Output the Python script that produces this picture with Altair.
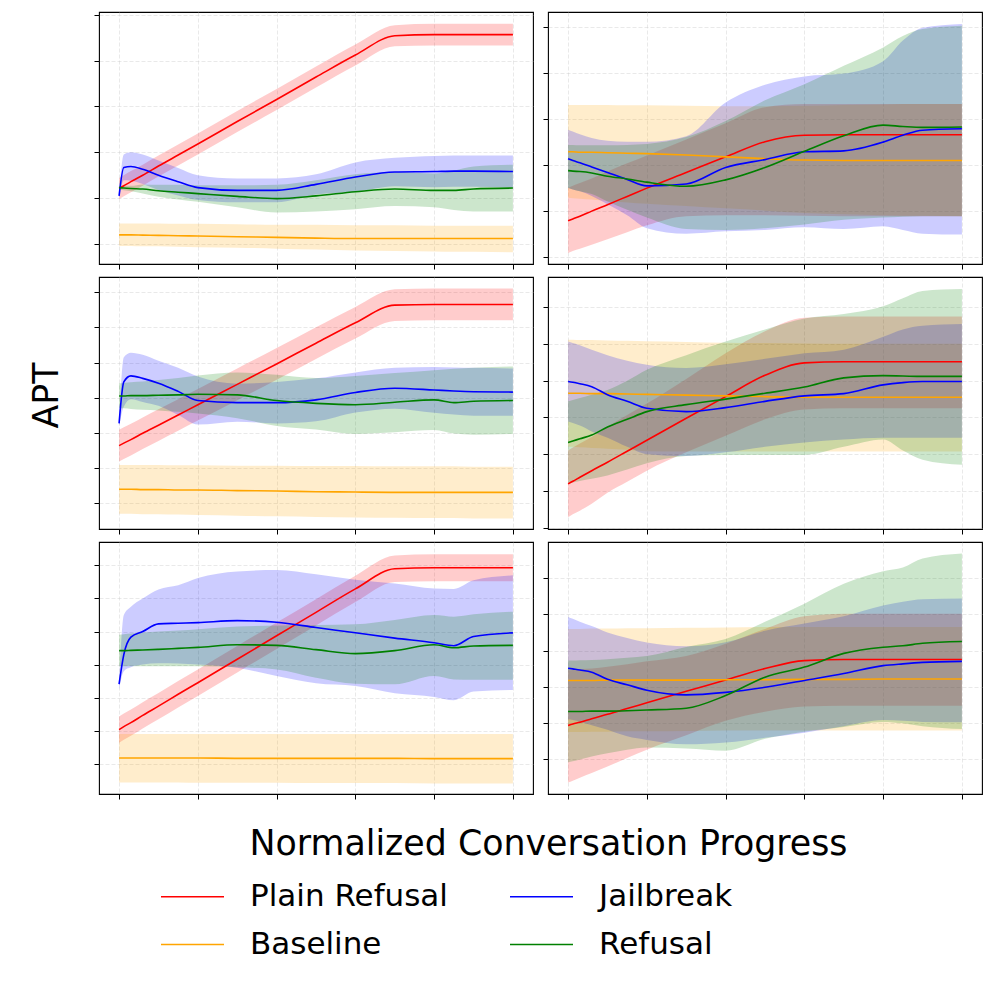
import altair as alt
import pandas as pd

# ---------------- data ----------------
X = [0, 0.012, 0.03, 0.06, 0.1, 0.15, 0.2, 0.3, 0.4, 0.5, 0.6, 0.7, 0.8, 0.85, 0.9, 1.0]
SERIES = ["Plain Refusal", "Baseline", "Jailbreak", "Refusal"]
SERIES_COLORS = ["#ff0000", "#ffa500", "#0000ff", "#008000"]
X_TICKS = [0, 0.2, 0.4, 0.6, 0.8, 1.0]

# top-left
tl_red = [1.21, 1.27, 1.36, 1.50, 1.70, 1.94, 2.18, 2.67, 3.15, 3.64, 4.12, 4.54, 4.565, 4.565, 4.565, 4.565]
tl_red_lo = [0.98, 1.04, 1.13, 1.27, 1.47, 1.71, 1.95, 2.44, 2.92, 3.41, 3.89, 4.31, 4.33, 4.33, 4.33, 4.33]
tl_red_hi = [1.44, 1.50, 1.59, 1.73, 1.93, 2.17, 2.41, 2.90, 3.38, 3.87, 4.35, 4.77, 4.80, 4.80, 4.80, 4.80]
tl_base = [0.20, 0.20, 0.20, 0.195, 0.19, 0.18, 0.175, 0.16, 0.145, 0.13, 0.12, 0.12, 0.12, 0.12, 0.12, 0.12]
tl_base_lo = [-0.04, -0.04, -0.04, -0.05, -0.05, -0.06, -0.07, -0.08, -0.10, -0.12, -0.14, -0.15, -0.16, -0.17, -0.17, -0.18]
tl_base_hi = [0.45, 0.45, 0.45, 0.45, 0.45, 0.44, 0.44, 0.43, 0.42, 0.42, 0.41, 0.41, 0.40, 0.40, 0.40, 0.40]
tl_jail = [1.05, 1.67, 1.69, 1.63, 1.50, 1.36, 1.23, 1.17, 1.17, 1.30, 1.46, 1.57, 1.58, 1.59, 1.59, 1.58]
tl_jail_lo = [1.00, 1.39, 1.38, 1.31, 1.18, 1.06, 0.96, 0.91, 0.91, 1.08, 1.14, 1.26, 1.24, 1.25, 1.25, 1.23]
tl_jail_hi = [1.10, 1.95, 2.00, 1.95, 1.82, 1.66, 1.50, 1.43, 1.43, 1.52, 1.78, 1.88, 1.92, 1.93, 1.93, 1.93]
tl_ref = [1.23, 1.22, 1.21, 1.20, 1.16, 1.13, 1.10, 1.04, 0.99, 1.05, 1.14, 1.20, 1.17, 1.17, 1.20, 1.22]
tl_ref_lo = [1.19, 1.17, 1.15, 1.10, 1.03, 0.97, 0.92, 0.80, 0.69, 0.71, 0.76, 0.83, 0.80, 0.74, 0.71, 0.71]
tl_ref_hi = [1.27, 1.27, 1.27, 1.30, 1.29, 1.29, 1.28, 1.28, 1.29, 1.39, 1.52, 1.57, 1.54, 1.60, 1.69, 1.73]

# top-right
tr_red = [0.78, 0.82, 0.88, 0.99, 1.13, 1.31, 1.49, 1.83, 2.17, 2.50, 2.64, 2.65, 2.65, 2.65, 2.65, 2.65]
tr_red_lo = [0.08, 0.12, 0.17, 0.26, 0.38, 0.53, 0.68, 0.88, 0.90, 0.90, 0.89, 0.88, 0.88, 0.88, 0.88, 0.88]
tr_red_hi = [1.49, 1.54, 1.60, 1.70, 1.85, 2.03, 2.20, 2.55, 2.90, 3.25, 3.32, 3.32, 3.32, 3.32, 3.32, 3.32]
tr_base = [2.28, 2.28, 2.27, 2.27, 2.26, 2.25, 2.24, 2.21, 2.17, 2.13, 2.10, 2.09, 2.09, 2.09, 2.09, 2.09]
tr_base_lo = [1.28, 1.27, 1.26, 1.24, 1.21, 1.18, 1.15, 1.10, 1.05, 1.00, 0.95, 0.92, 0.90, 0.89, 0.89, 0.88]
tr_base_hi = [3.30, 3.30, 3.30, 3.30, 3.30, 3.29, 3.29, 3.28, 3.27, 3.27, 3.28, 3.30, 3.31, 3.32, 3.32, 3.32]
tr_jail = [2.13, 2.09, 2.04, 1.95, 1.83, 1.68, 1.54, 1.58, 1.94, 2.11, 2.28, 2.30, 2.49, 2.64, 2.75, 2.78]
tr_jail_lo = [1.50, 1.46, 1.42, 1.32, 1.14, 0.90, 0.62, 0.50, 0.55, 0.58, 0.64, 0.60, 0.66, 0.58, 0.50, 0.48]
tr_jail_hi = [2.76, 2.72, 2.66, 2.58, 2.52, 2.50, 2.50, 2.62, 3.35, 3.74, 3.92, 3.98, 4.25, 4.70, 4.98, 5.06]
tr_ref = [1.87, 1.86, 1.85, 1.82, 1.75, 1.69, 1.62, 1.53, 1.67, 1.94, 2.29, 2.63, 2.86, 2.83, 2.81, 2.82]
tr_ref_lo = [1.49, 1.46, 1.42, 1.36, 1.20, 1.02, 0.85, 0.60, 0.58, 0.62, 0.70, 0.80, 0.85, 0.87, 0.88, 0.88]
tr_ref_hi = [2.43, 2.43, 2.42, 2.42, 2.42, 2.43, 2.45, 2.60, 2.95, 3.40, 3.75, 4.15, 4.55, 4.80, 4.95, 5.02]

# middle-left
ml_red = [1.64, 1.71, 1.81, 1.99, 2.22, 2.51, 2.80, 3.38, 3.96, 4.55, 5.13, 5.63, 5.65, 5.65, 5.65, 5.65]
ml_red_lo = [1.19, 1.26, 1.36, 1.54, 1.77, 2.06, 2.35, 2.93, 3.51, 4.10, 4.68, 5.18, 5.20, 5.20, 5.20, 5.20]
ml_red_hi = [2.09, 2.16, 2.26, 2.44, 2.67, 2.96, 3.25, 3.83, 4.41, 5.00, 5.58, 6.08, 6.10, 6.10, 6.10, 6.10]
ml_base = [0.40, 0.40, 0.40, 0.39, 0.39, 0.38, 0.38, 0.36, 0.35, 0.33, 0.32, 0.31, 0.31, 0.31, 0.31, 0.31]
ml_base_lo = [-0.30, -0.30, -0.30, -0.31, -0.31, -0.32, -0.33, -0.35, -0.37, -0.39, -0.40, -0.41, -0.42, -0.42, -0.43, -0.43]
ml_base_hi = [1.09, 1.09, 1.09, 1.09, 1.09, 1.08, 1.08, 1.07, 1.07, 1.06, 1.06, 1.05, 1.05, 1.05, 1.04, 1.04]
ml_jail = [2.27, 3.45, 3.62, 3.55, 3.41, 3.18, 2.92, 2.86, 2.86, 2.94, 3.15, 3.27, 3.22, 3.19, 3.17, 3.16]
ml_jail_lo = [2.19, 2.75, 2.96, 2.88, 2.77, 2.51, 2.24, 2.32, 2.27, 2.33, 2.58, 2.69, 2.57, 2.52, 2.49, 2.49]
ml_jail_hi = [2.35, 4.15, 4.28, 4.22, 4.05, 3.85, 3.60, 3.40, 3.45, 3.55, 3.72, 3.85, 3.87, 3.86, 3.85, 3.83]
ml_ref = [3.05, 3.05, 3.06, 3.06, 3.07, 3.08, 3.10, 3.08, 2.92, 2.84, 2.80, 2.87, 2.94, 2.86, 2.90, 2.92]
ml_ref_lo = [2.70, 2.70, 2.68, 2.66, 2.64, 2.60, 2.55, 2.42, 2.20, 2.10, 1.97, 2.02, 2.08, 1.98, 1.95, 1.97]
ml_ref_hi = [3.41, 3.42, 3.44, 3.46, 3.50, 3.56, 3.63, 3.72, 3.65, 3.56, 3.62, 3.70, 3.78, 3.82, 3.85, 3.89]

# middle-right
mr_red = [1.19, 1.26, 1.37, 1.55, 1.78, 2.08, 2.38, 2.98, 3.57, 4.15, 4.49, 4.52, 4.52, 4.52, 4.52, 4.52]
mr_red_lo = [0.28, 0.36, 0.46, 0.65, 0.95, 1.25, 1.55, 2.05, 2.50, 2.95, 3.22, 3.25, 3.25, 3.25, 3.25, 3.25]
mr_red_hi = [2.10, 2.18, 2.29, 2.47, 2.75, 3.07, 3.38, 4.05, 4.75, 5.35, 5.72, 5.75, 5.75, 5.75, 5.75, 5.75]
mr_base = [3.66, 3.66, 3.66, 3.65, 3.65, 3.64, 3.63, 3.61, 3.59, 3.57, 3.55, 3.55, 3.55, 3.55, 3.55, 3.55]
mr_base_lo = [2.21, 2.20, 2.19, 2.17, 2.15, 2.12, 2.08, 2.07, 2.07, 2.07, 2.07, 2.07, 2.07, 2.07, 2.07, 2.07]
mr_base_hi = [5.12, 5.12, 5.11, 5.11, 5.10, 5.09, 5.08, 5.06, 5.04, 5.03, 5.02, 5.01, 5.01, 5.01, 5.01, 5.01]
mr_jail = [3.98, 3.96, 3.92, 3.84, 3.62, 3.44, 3.25, 3.16, 3.27, 3.44, 3.59, 3.65, 3.89, 3.95, 3.98, 3.98]
mr_jail_lo = [2.89, 2.85, 2.78, 2.62, 2.45, 2.20, 2.00, 1.95, 2.05, 2.20, 2.32, 2.40, 2.45, 2.45, 2.45, 2.45]
mr_jail_hi = [5.07, 5.03, 4.97, 4.85, 4.70, 4.55, 4.44, 4.35, 4.45, 4.60, 4.75, 4.85, 5.20, 5.40, 5.50, 5.55]
mr_ref = [2.32, 2.36, 2.42, 2.52, 2.74, 2.95, 3.16, 3.35, 3.50, 3.66, 3.83, 4.08, 4.14, 4.13, 4.12, 4.12]
mr_ref_lo = [1.21, 1.23, 1.27, 1.33, 1.42, 1.58, 1.75, 1.95, 1.98, 1.98, 1.98, 2.20, 2.40, 2.10, 1.85, 1.71]
mr_ref_hi = [3.44, 3.48, 3.53, 3.62, 3.75, 4.00, 4.30, 4.70, 5.07, 5.40, 5.70, 5.82, 6.03, 6.25, 6.45, 6.50]

# bottom-left
bl_red = [1.03, 1.12, 1.24, 1.46, 1.74, 2.10, 2.45, 3.16, 3.87, 4.58, 5.29, 5.90, 5.93, 5.93, 5.93, 5.93]
bl_red_lo = [0.63, 0.72, 0.84, 1.06, 1.34, 1.70, 2.05, 2.76, 3.47, 4.18, 4.89, 5.50, 5.52, 5.52, 5.52, 5.52]
bl_red_hi = [1.43, 1.52, 1.64, 1.86, 2.14, 2.50, 2.85, 3.56, 4.27, 4.98, 5.69, 6.30, 6.34, 6.34, 6.34, 6.34]
bl_base = [0.17, 0.17, 0.17, 0.17, 0.17, 0.17, 0.17, 0.16, 0.16, 0.16, 0.16, 0.16, 0.15, 0.15, 0.15, 0.15]
bl_base_lo = [-0.57, -0.57, -0.57, -0.57, -0.57, -0.57, -0.58, -0.58, -0.58, -0.59, -0.59, -0.59, -0.60, -0.60, -0.60, -0.60]
bl_base_hi = [0.90, 0.90, 0.90, 0.90, 0.90, 0.90, 0.90, 0.90, 0.90, 0.90, 0.90, 0.90, 0.90, 0.90, 0.90, 0.90]
bl_jail = [2.41, 3.30, 3.83, 4.00, 4.23, 4.25, 4.27, 4.33, 4.28, 4.12, 3.96, 3.80, 3.66, 3.57, 3.85, 3.96]
bl_jail_lo = [2.25, 2.80, 2.92, 3.00, 3.04, 3.03, 3.00, 2.90, 2.65, 2.43, 2.35, 2.13, 2.02, 1.92, 2.18, 2.23]
bl_jail_hi = [2.50, 4.50, 4.75, 5.00, 5.27, 5.40, 5.62, 5.82, 5.86, 5.73, 5.57, 5.45, 5.30, 5.29, 5.55, 5.70]
bl_ref = [3.42, 3.42, 3.43, 3.44, 3.46, 3.49, 3.52, 3.60, 3.58, 3.45, 3.33, 3.42, 3.60, 3.51, 3.56, 3.58]
bl_ref_lo = [2.95, 2.95, 2.95, 2.95, 2.95, 2.95, 2.95, 2.92, 2.85, 2.60, 2.42, 2.40, 2.65, 2.55, 2.54, 2.54]
bl_ref_hi = [3.90, 3.92, 3.94, 3.97, 4.00, 4.03, 4.07, 4.15, 4.18, 4.20, 4.22, 4.35, 4.50, 4.45, 4.52, 4.60]

# bottom-right
br_red = [0.92, 0.96, 1.01, 1.11, 1.23, 1.39, 1.55, 1.87, 2.18, 2.50, 2.72, 2.75, 2.75, 2.75, 2.75, 2.75]
br_red_lo = [-0.66, -0.61, -0.53, -0.40, -0.22, 0.02, 0.25, 0.65, 1.05, 1.30, 1.45, 1.47, 1.47, 1.47, 1.47, 1.47]
br_red_hi = [2.45, 2.46, 2.48, 2.50, 2.55, 2.62, 2.70, 2.85, 3.19, 3.60, 3.95, 4.02, 4.02, 4.02, 4.02, 4.02]
br_base = [2.17, 2.17, 2.17, 2.17, 2.18, 2.18, 2.18, 2.18, 2.19, 2.19, 2.20, 2.20, 2.21, 2.21, 2.21, 2.21]
br_base_lo = [0.74, 0.74, 0.74, 0.75, 0.75, 0.76, 0.76, 0.77, 0.78, 0.78, 0.78, 0.78, 0.78, 0.78, 0.78, 0.78]
br_base_hi = [3.60, 3.60, 3.60, 3.61, 3.61, 3.62, 3.62, 3.63, 3.64, 3.65, 3.65, 3.65, 3.65, 3.65, 3.65, 3.65]
br_jail = [2.51, 2.49, 2.46, 2.40, 2.20, 2.05, 1.90, 1.77, 1.84, 1.98, 2.17, 2.36, 2.58, 2.63, 2.67, 2.70]
br_jail_lo = [1.09, 1.07, 1.02, 0.93, 0.80, 0.62, 0.52, 0.40, 0.45, 0.58, 0.72, 0.90, 1.07, 1.05, 1.02, 1.01]
br_jail_hi = [3.93, 3.88, 3.80, 3.68, 3.50, 3.35, 3.22, 3.12, 3.23, 3.55, 3.75, 3.95, 4.25, 4.35, 4.42, 4.44]
br_ref = [1.31, 1.31, 1.31, 1.32, 1.32, 1.33, 1.35, 1.40, 1.75, 2.26, 2.54, 2.92, 3.09, 3.13, 3.20, 3.25]
br_ref_lo = [-0.10, -0.07, -0.02, 0.06, 0.15, 0.25, 0.31, 0.28, 0.22, 0.55, 0.75, 0.88, 1.02, 0.98, 0.90, 0.82]
br_ref_hi = [2.72, 2.72, 2.73, 2.74, 2.76, 2.80, 2.85, 3.10, 3.32, 3.80, 4.30, 4.85, 5.20, 5.30, 5.55, 5.69]

PANELS = [
    {"domain": [-0.435, 5.058], "ticks": [0, 1, 2, 3, 4, 5],
     "series": {"Plain Refusal": (tl_red, tl_red_lo, tl_red_hi), "Baseline": (tl_base, tl_base_lo, tl_base_hi),
                "Jailbreak": (tl_jail, tl_jail_lo, tl_jail_hi), "Refusal": (tl_ref, tl_ref_lo, tl_ref_hi)}},
    {"domain": [-0.16, 5.32], "ticks": [0, 1, 2, 3, 4, 5],
     "series": {"Plain Refusal": (tr_red, tr_red_lo, tr_red_hi), "Baseline": (tr_base, tr_base_lo, tr_base_hi),
                "Jailbreak": (tr_jail, tr_jail_lo, tr_jail_hi), "Refusal": (tr_ref, tr_ref_lo, tr_ref_hi)}},
    {"domain": [-0.73, 6.43], "ticks": [0, 1, 2, 3, 4, 5, 6],
     "series": {"Plain Refusal": (ml_red, ml_red_lo, ml_red_hi), "Baseline": (ml_base, ml_base_lo, ml_base_hi),
                "Jailbreak": (ml_jail, ml_jail_lo, ml_jail_hi), "Refusal": (ml_ref, ml_ref_lo, ml_ref_hi)}},
    {"domain": [-0.04, 6.83], "ticks": [0, 1, 2, 3, 4, 5, 6],
     "series": {"Plain Refusal": (mr_red, mr_red_lo, mr_red_hi), "Baseline": (mr_base, mr_base_lo, mr_base_hi),
                "Jailbreak": (mr_jail, mr_jail_lo, mr_jail_hi), "Refusal": (mr_ref, mr_ref_lo, mr_ref_hi)}},
    {"domain": [-0.92, 6.71], "ticks": [0, 1, 2, 3, 4, 5, 6],
     "series": {"Plain Refusal": (bl_red, bl_red_lo, bl_red_hi), "Baseline": (bl_base, bl_base_lo, bl_base_hi),
                "Jailbreak": (bl_jail, bl_jail_lo, bl_jail_hi), "Refusal": (bl_ref, bl_ref_lo, bl_ref_hi)}},
    {"domain": [-0.98, 6.01], "ticks": [0, 1, 2, 3, 4, 5],
     "series": {"Plain Refusal": (br_red, br_red_lo, br_red_hi), "Baseline": (br_base, br_base_lo, br_base_hi),
                "Jailbreak": (br_jail, br_jail_lo, br_jail_hi), "Refusal": (br_ref, br_ref_lo, br_ref_hi)}},
]

FONT = "DejaVu Sans"
PW, PH = 434, 252
TITLE_SIZE = 34.8
COLOR_OF = dict(zip(SERIES, SERIES_COLORS))

stroke_scale = alt.Scale(domain=SERIES, range=SERIES_COLORS)
legend = alt.Legend(
    orient="none", legendX=61, legendY=852, columns=2, title=None,
    labelFont=FONT, labelFontSize=31, labelColor="black", labelLimit=400,
    symbolType="stroke", symbolSize=3969, symbolStrokeWidth=1.6,
    labelOffset=25, columnPadding=58, rowPadding=-3,
)


def make_panel(idx, p):
    rows = []
    for s in SERIES:
        m, lo, hi = p["series"][s]
        for xi, a, b, c in zip(X, m, lo, hi):
            rows.append({"x": xi, "mean": a, "lo": b, "hi": c, "series": s})
    df = pd.DataFrame(rows)

    xkw = dict(values=X_TICKS, labels=False, grid=True, title=None)
    if idx == 4:
        xkw.update(title="Normalized Conversation Progress", titleFont=FONT, titleFontSize=TITLE_SIZE,
                   titleFontWeight="normal", titleColor="black", titleX=449, titleY=60,
                   titleAlign="center", titleBaseline="alphabetic", titleAnchor="start")
    ykw = dict(values=p["ticks"], labels=False, grid=True, title=None)
    if idx == 2:
        ykw.update(title="APT", titleFont=FONT, titleFontSize=TITLE_SIZE, titleFontWeight="normal",
                   titleColor="black", titleX=-52, titleY=118, titleAngle=270,
                   titleAlign="center", titleBaseline="middle", titleAnchor="start")
    xaxis = alt.Axis(**xkw)
    yaxis = alt.Axis(**ykw)
    xs = alt.Scale(domain=[-0.051, 1.051], nice=False, zero=False)
    ys = alt.Scale(domain=p["domain"], nice=False, zero=False)

    base = alt.Chart(df)
    layers = []
    for s in SERIES:
        layers.append(
            base.transform_filter(alt.datum.series == s)
            .mark_area(opacity=0.2, interpolate="monotone", color=COLOR_OF[s])
            .encode(
                x=alt.X("x:Q", scale=xs, axis=xaxis),
                y=alt.Y("lo:Q", scale=ys, axis=yaxis),
                y2="hi:Q",
            )
        )
    for s in SERIES:
        layers.append(
            base.transform_filter(alt.datum.series == s)
            .mark_line(strokeWidth=1.6, interpolate="monotone")
            .encode(
                x=alt.X("x:Q", scale=xs, axis=xaxis),
                y=alt.Y("mean:Q", scale=ys, axis=yaxis),
                stroke=alt.Stroke("series:N", scale=stroke_scale, legend=legend),
            )
        )
    return alt.layer(*layers).properties(width=PW, height=PH)


panels = [make_panel(i, p) for i, p in enumerate(PANELS)]

chart = alt.concat(
    *panels, columns=2, spacing={"row": 13, "column": 15}, bounds="flush"
).properties(
    padding={"left": 20, "top": 3, "right": 5, "bottom": 5}
).configure(font=FONT).configure_view(
    stroke="black", strokeWidth=1.1
).configure_axis(
    domain=False, ticks=True, tickColor="black", tickSize=5, tickWidth=1,
    gridColor="#cccccc", gridDash=[4, 2], gridWidth=0.8, gridOpacity=0.55,
)

chart.save("out.html", embed_options={"renderer": "svg", "actions": False})
